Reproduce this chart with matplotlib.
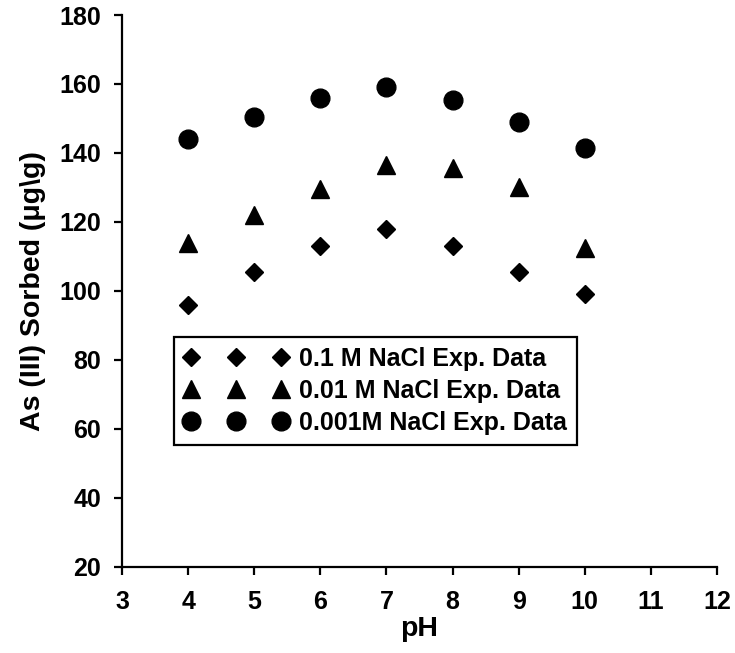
import matplotlib
matplotlib.use('Agg')
import matplotlib.pyplot as plt

plt.rcParams['font.family'] = ['Liberation Sans', 'DejaVu Sans']
plt.rcParams['font.weight'] = 'bold'

ph = [4, 5, 6, 7, 8, 9, 10]
# sorbed As(III), ug/g, at three ionic strengths
nacl_01 = [96, 105.5, 113, 118, 113, 105.5, 99]
nacl_001 = [114, 122, 129.5, 136.5, 135.5, 130, 112.5]
nacl_0001 = [144, 150.5, 156, 159, 155.5, 149, 141.5]
labels = ['0.1 M NaCl Exp. Data', '0.01 M NaCl Exp. Data', '0.001M NaCl Exp. Data']

fig = plt.figure(figsize=(7.35, 6.53), dpi=100)
ax = fig.add_axes([0.166, 0.132, 0.8095, 0.845])

ax.plot(ph, nacl_01, 'kD', markersize=9.5, linestyle='none', label=labels[0])
ax.plot(ph, nacl_001, 'k^', markersize=13, linestyle='none', label=labels[1])
ax.plot(ph, nacl_0001, 'ko', markersize=13.5, linestyle='none', label=labels[2])

ax.set_xlim(3, 12)
ax.set_ylim(20, 180)
ax.set_xticks(range(3, 13))
ax.set_yticks(range(20, 181, 20))
for s in ['top', 'right']:
    ax.spines[s].set_visible(False)
for s in ['left', 'bottom']:
    ax.spines[s].set_linewidth(1.6)
ax.tick_params(axis='both', direction='out', length=6, width=1.6, labelsize=18)
ax.tick_params(axis='x', pad=11)
ax.tick_params(axis='y', pad=9)

ax.set_xlabel('pH', fontsize=20.5, fontweight='bold', labelpad=1)
ax.set_ylabel('As (III) Sorbed (\u03bcg\\g)', fontsize=20.5, fontweight='bold', labelpad=10)

leg = ax.legend(loc='upper left', bbox_to_anchor=(0.087, 0.417), borderaxespad=0,
                numpoints=3, handlelength=4.2, handletextpad=0.4, borderpad=0.4,
                labelspacing=0.32, fancybox=False, framealpha=1,
                prop={'size': 18, 'weight': 'bold'})
leg.get_frame().set_edgecolor('black')
leg.get_frame().set_linewidth(1.6)

fig.savefig('out.png', dpi=100)
